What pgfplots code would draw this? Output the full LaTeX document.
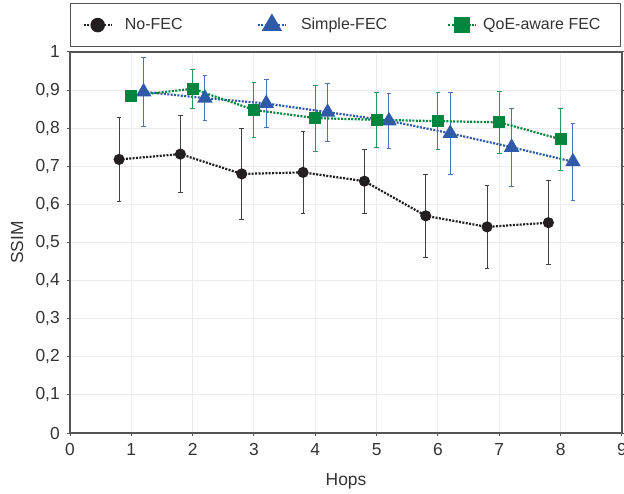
\documentclass[border=0pt]{standalone}
\usepackage{fontspec}
\setmainfont{Liberation Sans}
\usepackage{pgfplots}
\pgfplotsset{compat=1.18}
\definecolor{cdark}{HTML}{231F20}
\definecolor{cblue}{HTML}{2E5AA8}
\definecolor{cgreen}{HTML}{00853F}
\definecolor{ctext}{HTML}{333333}
\definecolor{caxis}{HTML}{555555}
\begin{document}
\begin{tikzpicture}
\begin{axis}[
  name=ax,
  scale only axis,
  width=276pt, height=190.5pt,
  xmin=0, xmax=9, ymin=0, ymax=1,
  xtick={0,1,...,9},
  ytick={0,0.1,...,1.0},
  yticklabel style={/pgf/number format/.cd, use comma, fixed, precision=1},
  /pgf/number format/assume math mode=true,
  tick label style={font=\fontsize{8.7}{10}\selectfont, text=ctext},
  label style={font=\fontsize{8.7}{10}\selectfont, text=ctext},
  xlabel={Hops}, ylabel={SSIM},
  xlabel style={at={(axis description cs:0.5,-0.128)}, anchor=center},
  ylabel style={at={(axis description cs:-0.096,0.5)}, anchor=center},
  grid=major,
  major grid style={gray!15, line width=0.5pt},
  axis line style={caxis, line width=0.6pt},
  tick style={caxis, line width=0.5pt},
  tick align=outside,
  major tick length=1.6pt,
  xtick pos=bottom, ytick pos=both,
  legend columns=3,
  legend image code/.code={%
    \draw[#1, mark=none] (0pt,0pt) -- (14pt,0pt);
    \draw[#1, only marks, every mark/.append style={scale=1.4}] plot coordinates {(7pt,0pt)};},
  legend style={at={(0,1)}, anchor=south west, yshift=2.5pt,
    draw=caxis, line width=0.6pt, inner xsep=6pt, inner ysep=5pt,
    font=\fontsize{8}{10}\selectfont, text=ctext,
    /tikz/every even column/.append style={column sep=0pt}},
]
\addplot[cdark, line width=1.1pt, dash pattern=on 1pt off 0.7pt,
  mark=*, mark size=2.2pt, mark options={solid, fill=cdark},
  error bars/.cd, y dir=both, y explicit,
  error bar style={black!75, line width=0.5pt, solid},
  error mark options={rotate=90, mark size=1.2pt, black!75, line width=0.5pt}]
  table[x=x, y=y, y error=e] {
x y e
0.8 0.718 0.111
1.8 0.732 0.101
2.8 0.680 0.120
3.8 0.684 0.108
4.8 0.661 0.084
5.8 0.570 0.109
6.8 0.541 0.109
7.8 0.552 0.110
};
\addlegendentry{\makebox[68pt][l]{\hspace{4pt}No-FEC}}
\addplot[cblue, line width=1.1pt, dash pattern=on 1pt off 0.7pt,
  mark=triangle*, mark size=3.4pt, mark options={solid, fill=cblue},
  error bars/.cd, y dir=both, y explicit,
  error bar style={cblue!85, line width=0.5pt, solid},
  error mark options={rotate=90, mark size=1.2pt, cblue!85, line width=0.5pt}]
  table[x=x, y=y, y error=e] {
x y e
1.2 0.8955 0.0905
2.2 0.879 0.060
3.2 0.865 0.063
4.2 0.842 0.076
5.2 0.8195 0.0725
6.2 0.7865 0.1075
7.2 0.750 0.102
8.2 0.712 0.101
};
\addlegendentry{\makebox[76pt][l]{\hspace{5pt}Simple-FEC}}
\addplot[cgreen, line width=1.1pt, dash pattern=on 1pt off 0.7pt,
  mark=square*, mark size=2.5pt, mark options={solid, fill=cgreen},
  error bars/.cd, y dir=both, y explicit,
  error bar style={cgreen!85, line width=0.5pt, solid},
  error mark options={rotate=90, mark size=1.2pt, cgreen!85, line width=0.5pt}]
  table[x=x, y=y, y error=e] {
x y e
1 0.885 0.010
2 0.9035 0.0515
3 0.848 0.072
4 0.8265 0.0865
5 0.822 0.072
6 0.8185 0.0755
7 0.8155 0.0815
8 0.771 0.081
};
\addlegendentry{\makebox[61.5pt][l]{\hspace{1pt}QoE-aware FEC}}
\end{axis}
\pgfresetboundingbox
\path[use as bounding box] (-35pt,-30pt) rectangle (277pt,216.5pt);
\end{tikzpicture}
\end{document}
